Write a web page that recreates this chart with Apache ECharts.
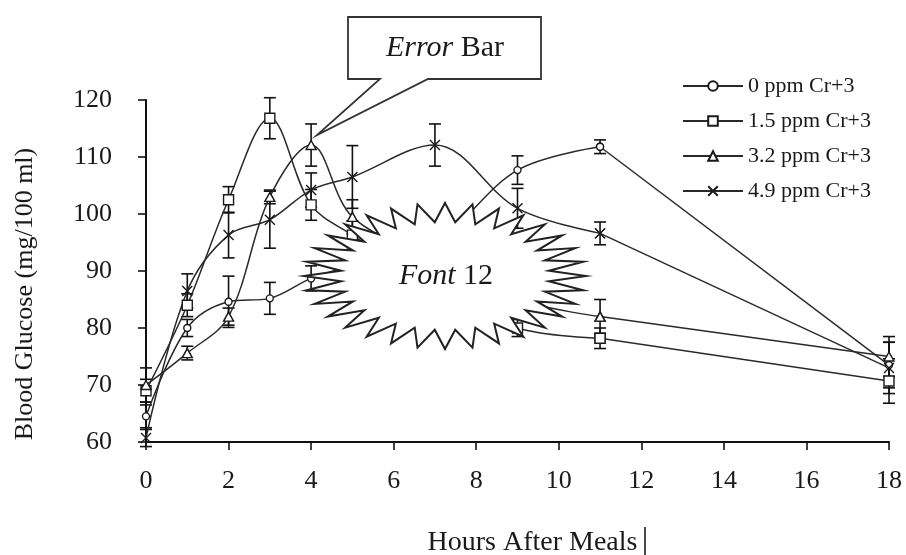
<!DOCTYPE html>
<html>
<head>
<meta charset="utf-8">
<script src="https://cdn.jsdelivr.net/npm/echarts@6/dist/echarts.min.js"></script>
<style>
  html, body { margin: 0; padding: 0; background: #fff; }
  #chart { width: 906px; height: 555px; }
</style>
</head>
<body>
<div id="chart"></div>
<script>
// hours after meals
const hours = [0, 1, 2, 3, 4, 5, 7, 9, 11, 18];
const seriesNames = ['0 ppm Cr+3', '1.5 ppm Cr+3', '3.2 ppm Cr+3', '4.9 ppm Cr+3'];

// blood glucose means (mg/100 ml)
const glucose0 = [64.5, 80.0, 84.6, 85.2, 88.7, 91.0, 95.0, 107.7, 111.8, 73.5];
const glucose15 = [69.0, 84.0, 102.5, 116.8, 101.6, 96.3, 87.0, 80.0, 78.2, 70.7];
const glucose32 = [70.0, 75.6, 82.0, 103.0, 112.1, 99.5, 92.0, 85.0, 82.0, 75.0];
const glucose49 = [60.7, 86.5, 96.3, 99.0, 104.2, 106.5, 112.1, 101.0, 96.6, 73.0];

// error bar half widths
const err0 = [2.0, 1.5, 4.5, 2.8, 2.2, 2.0, 2.0, 2.5, 1.2, 4.0];
const err15 = [2.0, 2.0, 2.3, 3.6, 2.7, 2.5, 2.0, 1.5, 1.8, 3.9];
const err32 = [3.0, 1.2, 1.5, 1.2, 3.7, 3.0, 2.0, 2.0, 3.0, 3.5];
const err49 = [1.5, 3.0, 4.0, 5.0, 3.0, 5.5, 3.7, 3.5, 2.0, 4.5];

const xTicks = [0, 2, 4, 6, 8, 10, 12, 14, 16, 18];
const yTicks = [60, 70, 80, 90, 100, 110, 120];

const serif = 'Liberation Serif';
const ink = '#1a1a1a';

const means = [glucose0, glucose15, glucose32, glucose49];
const errs = [err0, err15, err32, err49];
const symbols = ['circle', 'rect', 'triangle', 'path://M0,0L10,10M0,10L10,0'];
const symbolSizes = [7, 10, [10, 9], 10];
// the long 11h -> 18h stretch is drawn straight, as in the original
const tailStart = hours.indexOf(11);

// 误差线
function errorBarItem(params, api) {
  const x = api.value(0);
  const hi = api.coord([x, api.value(2)]);
  const lo = api.coord([x, api.value(1)]);
  const w = 6;
  const st = { stroke: '#111', lineWidth: 1.6 };
  return {
    type: 'group',
    children: [
      { type: 'line', shape: { x1: hi[0], y1: hi[1], x2: lo[0], y2: lo[1] }, style: st },
      { type: 'line', shape: { x1: hi[0] - w, y1: hi[1], x2: hi[0] + w, y2: hi[1] }, style: st },
      { type: 'line', shape: { x1: lo[0] - w, y1: lo[1], x2: lo[0] + w, y2: lo[1] }, style: st }
    ]
  };
}

// starburst outline
function burstPoints(cx, cy, rx, ry, n, k) {
  const pts = [];
  for (let i = 0; i < n * 2; i++) {
    const a = Math.PI * i / n;
    const r = i % 2 === 0 ? 1 : k;
    pts.push([cx + rx * r * Math.cos(a), cy + ry * r * Math.sin(a)]);
  }
  return pts;
}

function lineSeries(s, smooth, from, to) {
  return {
    name: seriesNames[s],
    type: 'line',
    z: 3,
    smooth: smooth,
    symbol: symbols[s],
    symbolSize: symbolSizes[s],
    showAllSymbol: true,
    lineStyle: { color: '#2a2a2a', width: 1.5 },
    itemStyle: { color: '#fff', borderColor: '#1a1a1a', borderWidth: 1.4 },
    data: hours.map((h, i) => [h, means[s][i]]).slice(from, to)
  };
}

let series = [];
means.forEach((vals, s) => {
  series.push({
    name: seriesNames[s] + ' err',
    type: 'custom',
    z: 1,
    renderItem: errorBarItem,
    data: hours.map((h, i) => [h, vals[i] - errs[s][i], vals[i] + errs[s][i]])
  });
});
means.forEach((vals, s) => {
  series.push(lineSeries(s, 0.35, 0, tailStart + 1));
  series.push(lineSeries(s, false, tailStart, hours.length));
});

let option = {
  animation: false,
  backgroundColor: '#fff',
  grid: { left: 146, right: 17, top: 100, bottom: 113, outerBoundsMode: 'none' },
  legend: {
    data: seriesNames,
    orient: 'vertical',
    left: 677,
    top: 70,
    itemWidth: 60,
    itemHeight: 12,
    itemGap: 13,
    textStyle: { fontFamily: serif, fontSize: 22, color: ink }
  },
  xAxis: {
    type: 'value',
    min: xTicks[0],
    max: xTicks[xTicks.length - 1],
    interval: 2,
    name: 'Hours After Meals',
    nameLocation: 'middle',
    nameGap: 87,
    nameTextStyle: { fontFamily: serif, fontSize: 28, color: ink, padding: [0, 0, 0, 30] },
    axisLine: { lineStyle: { color: '#111', width: 2 } },
    axisTick: { show: true, length: 8, lineStyle: { color: '#111', width: 1.6 } },
    axisLabel: { margin: 26, fontFamily: serif, fontSize: 26, color: ink },
    splitLine: { show: false }
  },
  yAxis: {
    type: 'value',
    min: yTicks[0],
    max: yTicks[yTicks.length - 1],
    interval: 10,
    name: 'Blood Glucose (mg/100 ml)',
    nameLocation: 'middle',
    nameGap: 108,
    nameTextStyle: { fontFamily: serif, fontSize: 26, color: ink, padding: [0, 46, 0, 0] },
    axisLine: { show: true, lineStyle: { color: '#111', width: 2 } },
    axisTick: { show: true, length: 8, lineStyle: { color: '#111', width: 1.6 } },
    axisLabel: { margin: 34, fontFamily: serif, fontSize: 26, color: ink },
    splitLine: { show: false }
  },
  graphic: [
    {
      type: 'polygon',
      z: 100,
      shape: { points: burstPoints(445, 276, 141, 73, 32, 0.74) },
      style: { fill: '#fff', stroke: '#222', lineWidth: 2 }
    },
    {
      type: 'text',
      z: 101,
      style: {
        x: 446, y: 276,
        text: '{i|Font} 12',
        align: 'center', verticalAlign: 'middle',
        fontFamily: serif, fontSize: 30, fill: ink,
        rich: { i: { fontFamily: serif, fontSize: 30, fontStyle: 'italic', color: ink } }
      }
    },
    {
      type: 'polygon',
      z: 100,
      shape: { points: [[348, 17], [541, 17], [541, 79], [428, 79], [317, 135], [380, 79], [348, 79]] },
      style: { fill: '#fff', stroke: '#333', lineWidth: 1.8 }
    },
    {
      type: 'text',
      z: 101,
      style: {
        x: 445, y: 48,
        text: '{i|Error} Bar',
        align: 'center', verticalAlign: 'middle',
        fontFamily: serif, fontSize: 30, fill: ink,
        rich: { i: { fontFamily: serif, fontSize: 30, fontStyle: 'italic', color: ink } }
      }
    },
    {
      type: 'line',
      z: 101,
      shape: { x1: 645, y1: 527, x2: 645, y2: 555 },
      style: { stroke: '#111', lineWidth: 1.5 }
    }
  ],
  series: series
};

let myChart = echarts.init(document.getElementById('chart'));
myChart.setOption(option);
</script>
</body>
</html>
